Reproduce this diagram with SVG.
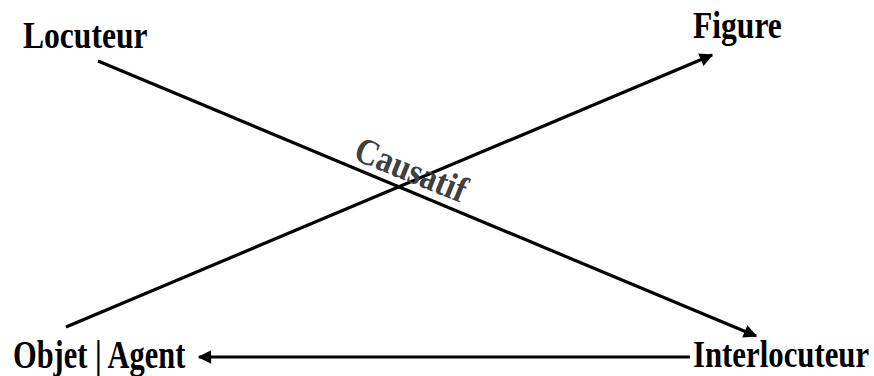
<svg xmlns="http://www.w3.org/2000/svg" width="874" height="376" viewBox="0 0 874 376">
<style>
.lbl{font-family:"Liberation Serif","Times New Roman",serif;font-weight:bold;font-size:39px;fill:#000}
.cau{font-family:"Liberation Serif","Times New Roman",serif;font-weight:bold;font-size:37px;fill:#404040}
.ln{stroke:#000;stroke-width:3.2;fill:none}
</style>
<defs>
<marker id="ah" viewBox="0 0 10 10" refX="9" refY="5" markerWidth="5" markerHeight="4.2" markerUnits="strokeWidth" orient="auto">
<path d="M0,0 L10,5 L0,10 z" fill="#000"/>
</marker>
</defs>
<g id="connectors">
<line class="ln" x1="98" y1="61" x2="756" y2="336" marker-end="url(#ah)"/>
<line class="ln" x1="66" y1="327" x2="712" y2="55" marker-end="url(#ah)"/>
<line class="ln" x1="690" y1="357" x2="199" y2="357" marker-end="url(#ah)"/>
</g>
<g id="locuteur"><text class="lbl" transform="translate(23,48) scale(0.81,1)">Locuteur</text></g>
<g id="figure"><text class="lbl" transform="translate(693,38) scale(0.81,1)">Figure</text></g>
<g id="objet-agent"><text class="lbl" transform="translate(13,368) scale(0.78,1)">Objet | Agent</text></g>
<g id="interlocuteur"><text class="lbl" transform="translate(693,367) scale(0.79,1)">Interlocuteur</text></g>
<g id="causatif"><text class="cau" transform="translate(352,159) rotate(22) scale(0.88,1)">Causatif</text></g>
</svg>
